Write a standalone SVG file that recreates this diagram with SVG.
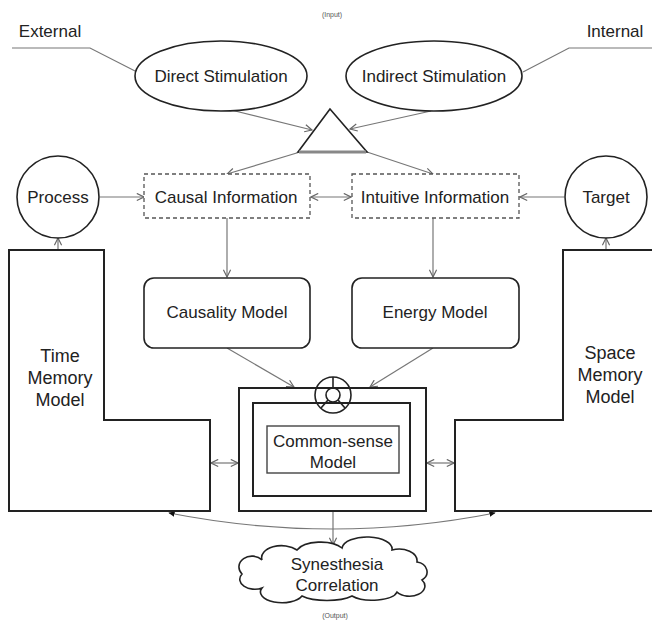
<svg xmlns="http://www.w3.org/2000/svg" width="652" height="621" viewBox="0 0 652 621">
<defs>
<marker id="arr" viewBox="0 0 10 10" refX="9" refY="5" markerWidth="9" markerHeight="9" orient="auto-start-reverse" markerUnits="userSpaceOnUse">
<path d="M1,1 L9,5 L1,9" fill="none" stroke="#666" stroke-width="1.3"/>
</marker>
<marker id="dot" viewBox="0 0 10 10" refX="8" refY="5" markerWidth="7" markerHeight="7" orient="auto-start-reverse" markerUnits="userSpaceOnUse">
<path d="M0,1 L9,5 L0,9 Z" fill="#111"/>
</marker>
<style>
text{font-family:"Liberation Sans",Arial,sans-serif;font-size:17px;fill:#222;text-anchor:middle}
.small{font-size:7px;fill:#555}
.big{font-size:18px}
.shape{fill:#fff;stroke:#222;stroke-width:1.6}
.thick{fill:#fff;stroke:#222;stroke-width:2}
.dash{fill:#fff;stroke:#555;stroke-width:1.3;stroke-dasharray:4 3}
.con{fill:none;stroke:#777;stroke-width:1.2}
.arrow{marker-end:url(#arr)}
.both{marker-start:url(#arr);marker-end:url(#arr)}
</style>
</defs>
<rect width="652" height="621" fill="#fff"/>

<text class="small" x="332" y="17">(Input)</text>
<text class="small" x="335" y="618">(Output)</text>

<g id="connectors">
<polyline class="con" points="12,48 90,48 137,72" stroke="#555"/>
<polyline class="con" points="652,48 569,48 523,72" stroke="#555"/>
<line class="con arrow" x1="231" y1="110" x2="312" y2="130"/>
<line class="con arrow" x1="431" y1="111" x2="350" y2="129"/>
<line class="con arrow" x1="300" y1="152" x2="227" y2="174"/>
<line class="con arrow" x1="367" y1="152" x2="433" y2="174"/>
<line class="con arrow" x1="100" y1="197" x2="144" y2="197"/>
<line class="con both" x1="311" y1="197" x2="351" y2="197"/>
<line class="con arrow" x1="564" y1="197" x2="520" y2="197"/>
<line class="con arrow" x1="227" y1="218" x2="227" y2="277"/>
<line class="con arrow" x1="433" y1="218" x2="433" y2="277"/>
<line class="con arrow" x1="58" y1="250" x2="58" y2="238"/>
<line class="con arrow" x1="606" y1="250" x2="606" y2="238"/>
<line class="con arrow" x1="227" y1="348" x2="294" y2="387"/>
<line class="con arrow" x1="433" y1="348" x2="370" y2="387"/>
<line class="con both" x1="211" y1="463" x2="238" y2="463"/>
<line class="con both" x1="427" y1="463" x2="454" y2="463"/>
<path class="con" d="M169,513 Q333,545 495,513" stroke="#555" marker-start="url(#dot)" marker-end="url(#dot)"/>
<line class="con arrow" x1="333" y1="511" x2="333" y2="545"/>
</g>

<g id="direct">
<ellipse class="shape" cx="221" cy="76" rx="86" ry="35"/>
<text x="221" y="82">Direct Stimulation</text>
</g>
<g id="indirect">
<ellipse class="shape" cx="434" cy="76" rx="88" ry="35"/>
<text x="434" y="82">Indirect Stimulation</text>
</g>
<g id="triangle">
<polygon points="330,109 298,152 367,152" fill="#fff" stroke="#222" stroke-width="1.6"/>
<line x1="299" y1="152" x2="366" y2="152" stroke="#888" stroke-width="3"/>
</g>
<g id="process">
<circle class="shape" cx="58" cy="197" r="41"/>
<text x="58" y="203">Process</text>
</g>
<g id="target">
<circle class="shape" cx="606" cy="197" r="41"/>
<text x="606" y="203">Target</text>
</g>
<g id="causal-info">
<rect class="dash" x="144" y="174" width="166" height="44"/>
<text x="226" y="203">Causal Information</text>
</g>
<g id="intuitive-info">
<rect class="dash" x="352" y="174" width="167" height="44"/>
<text x="435" y="203">Intuitive Information</text>
</g>
<g id="causality-model">
<rect class="shape" x="144" y="278" width="166" height="70" rx="10"/>
<text x="227" y="318">Causality Model</text>
</g>
<g id="energy-model">
<rect class="shape" x="352" y="278" width="167" height="70" rx="10"/>
<text x="435" y="318">Energy Model</text>
</g>
<g id="time-memory">
<polygon class="thick" points="9,250 104,250 104,420 210,420 210,511 9,511"/>
<text class="big" x="60" y="362">Time</text>
<text class="big" x="60" y="384">Memory</text>
<text class="big" x="60" y="406">Model</text>
</g>
<g id="space-memory">
<polygon class="thick" points="653,250 563,250 563,420 455,420 455,511 653,511"/>
<text class="big" x="610" y="359">Space</text>
<text class="big" x="610" y="381">Memory</text>
<text class="big" x="610" y="403">Model</text>
</g>
<g id="common-sense">
<rect class="thick" x="239" y="388" width="187" height="123"/>
<rect class="thick" x="253" y="403" width="157" height="93"/>
<rect x="267" y="426" width="132" height="47" fill="#fff" stroke="#444" stroke-width="1.4"/>
<text x="333" y="447">Common-sense</text>
<text x="333" y="468">Model</text>
<g fill="none" stroke="#222" stroke-width="1.6">
<circle cx="333" cy="395" r="18"/>
<circle cx="333" cy="395" r="7"/>
<line x1="333" y1="388" x2="333" y2="377"/>
<line x1="328" y1="400" x2="321" y2="408"/>
<line x1="338" y1="400" x2="345" y2="408"/>
</g>
</g>
<g id="synesthesia">
<path d="M262,560 a20,12 0 0 1 35,-10 a25,12 0 0 1 45,-2 a25,12 0 0 1 50,2 a18,12 0 0 1 25,12 a12,10 0 0 1 5,18 a15,10 0 0 1 -25,12 a25,10 0 0 1 -45,4 a30,10 0 0 1 -50,0 a20,10 0 0 1 -40,-8 a15,10 0 0 1 -20,-14 a12,10 0 0 1 20,-14 z" fill="#fff" stroke="#222" stroke-width="1.6"/>
<text x="337" y="570">Synesthesia</text>
<text x="337" y="591">Correlation</text>
</g>

<text x="50" y="37">External</text>
<text x="615" y="37">Internal</text>
</svg>
